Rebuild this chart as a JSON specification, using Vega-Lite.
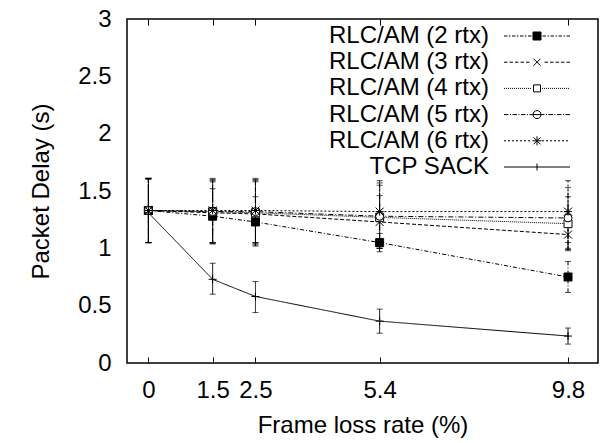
{
  "$schema": "https://vega.github.io/schema/vega-lite/v6.json",
  "width": 471,
  "height": 344,
  "autosize": {"type": "none"},
  "padding": {"left": 127, "top": 19, "right": 4, "bottom": 80},
  "config": {
    "font": "Liberation Sans",
    "view": {"stroke": "black", "strokeWidth": 1.5},
    "axis": {"grid": false, "labelColor": "black", "titleColor": "black", "labelFont": "Liberation Sans", "titleFont": "Liberation Sans", "labelFontSize": 24, "titleFontSize": 24, "titleFontWeight": "normal", "domain": false}
  },
  "data": {"values": [
    {"series": "RLC/AM (2 rtx)", "x": 0, "y": 1.33, "lo": 1.05, "hi": 1.61},
    {"series": "RLC/AM (2 rtx)", "x": 1.5, "y": 1.28, "lo": 1.04, "hi": 1.52},
    {"series": "RLC/AM (2 rtx)", "x": 2.5, "y": 1.23, "lo": 1.02, "hi": 1.45},
    {"series": "RLC/AM (2 rtx)", "x": 5.4, "y": 1.05, "lo": 0.97, "hi": 1.13},
    {"series": "RLC/AM (2 rtx)", "x": 9.8, "y": 0.75, "lo": 0.615, "hi": 0.885},
    {"series": "RLC/AM (3 rtx)", "x": 0, "y": 1.33, "lo": 1.05, "hi": 1.61},
    {"series": "RLC/AM (3 rtx)", "x": 1.5, "y": 1.31, "lo": 1.04, "hi": 1.58},
    {"series": "RLC/AM (3 rtx)", "x": 2.5, "y": 1.30, "lo": 1.03, "hi": 1.58},
    {"series": "RLC/AM (3 rtx)", "x": 5.4, "y": 1.23, "lo": 1.0, "hi": 1.46},
    {"series": "RLC/AM (3 rtx)", "x": 9.8, "y": 1.12, "lo": 0.98, "hi": 1.26},
    {"series": "RLC/AM (4 rtx)", "x": 0, "y": 1.33, "lo": 1.05, "hi": 1.61},
    {"series": "RLC/AM (4 rtx)", "x": 1.5, "y": 1.32, "lo": 1.05, "hi": 1.59},
    {"series": "RLC/AM (4 rtx)", "x": 2.5, "y": 1.31, "lo": 1.04, "hi": 1.59},
    {"series": "RLC/AM (4 rtx)", "x": 5.4, "y": 1.27, "lo": 1.0, "hi": 1.55},
    {"series": "RLC/AM (4 rtx)", "x": 9.8, "y": 1.215, "lo": 0.99, "hi": 1.45},
    {"series": "RLC/AM (5 rtx)", "x": 0, "y": 1.33, "lo": 1.05, "hi": 1.61},
    {"series": "RLC/AM (5 rtx)", "x": 1.5, "y": 1.32, "lo": 1.05, "hi": 1.6},
    {"series": "RLC/AM (5 rtx)", "x": 2.5, "y": 1.32, "lo": 1.05, "hi": 1.6},
    {"series": "RLC/AM (5 rtx)", "x": 5.4, "y": 1.28, "lo": 1.0, "hi": 1.57},
    {"series": "RLC/AM (5 rtx)", "x": 9.8, "y": 1.265, "lo": 1.0, "hi": 1.53},
    {"series": "RLC/AM (6 rtx)", "x": 0, "y": 1.33, "lo": 1.05, "hi": 1.61},
    {"series": "RLC/AM (6 rtx)", "x": 1.5, "y": 1.33, "lo": 1.05, "hi": 1.61},
    {"series": "RLC/AM (6 rtx)", "x": 2.5, "y": 1.33, "lo": 1.05, "hi": 1.61},
    {"series": "RLC/AM (6 rtx)", "x": 5.4, "y": 1.32, "lo": 1.05, "hi": 1.59},
    {"series": "RLC/AM (6 rtx)", "x": 9.8, "y": 1.32, "lo": 1.05, "hi": 1.59},
    {"series": "TCP SACK", "x": 0, "y": 1.31, "lo": 1.05, "hi": 1.6},
    {"series": "TCP SACK", "x": 1.5, "y": 0.73, "lo": 0.6, "hi": 0.87},
    {"series": "TCP SACK", "x": 2.5, "y": 0.58, "lo": 0.44, "hi": 0.71},
    {"series": "TCP SACK", "x": 5.4, "y": 0.365, "lo": 0.26, "hi": 0.47},
    {"series": "TCP SACK", "x": 9.8, "y": 0.235, "lo": 0.165, "hi": 0.305}
  ]},
  "resolve": {"scale": {"shape": "independent"}, "axis": {"x": "independent", "y": "independent"}},
  "layer": [
    {
      "mark": {"type": "rule", "color": "black", "strokeWidth": 1},
      "encoding": {
        "x": {"field": "x", "type": "quantitative", "scale": {"domain": [-0.5, 10.5], "nice": false, "zero": false},
          "axis": {"values": [0, 1.5, 2.5, 5.4, 9.8], "format": ".1~f", "title": "Frame loss rate (%)", "tickSize": -6, "tickColor": "black", "labelPadding": 21, "titlePadding": 11, "labelFlush": false, "labelOverlap": false}},
        "y": {"field": "lo", "type": "quantitative", "scale": {"domain": [0, 3], "nice": false},
          "axis": {"values": [0, 0.5, 1, 1.5, 2, 2.5, 3], "format": "~g", "title": "Packet Delay (s)", "ticks": false, "labelPadding": 16, "titlePadding": 24, "labelFlush": false, "labelOverlap": false}},
        "y2": {"field": "hi"},
        "strokeDash": {"field": "series", "type": "nominal", "legend": null,
          "scale": {"domain": ["RLC/AM (2 rtx)", "RLC/AM (3 rtx)", "RLC/AM (4 rtx)", "RLC/AM (5 rtx)", "RLC/AM (6 rtx)", "TCP SACK"],
            "range": [[4, 2, 1, 2], [4, 2], [1, 1], [5, 2, 1, 2], [2, 2], [1, 0]]}}
      }
    },
    {
      "mark": {"type": "tick", "orient": "horizontal", "color": "black", "size": 6, "thickness": 1},
      "encoding": {
        "x": {"field": "x", "type": "quantitative", "axis": null},
        "y": {"field": "lo", "type": "quantitative", "axis": null}
      }
    },
    {
      "mark": {"type": "tick", "orient": "horizontal", "color": "black", "size": 6, "thickness": 1},
      "encoding": {
        "x": {"field": "x", "type": "quantitative", "axis": null},
        "y": {"field": "hi", "type": "quantitative", "axis": null}
      }
    },
    {
      "mark": {"type": "line", "color": "black", "strokeWidth": 1},
      "encoding": {
        "x": {"field": "x", "type": "quantitative",
          "axis": {"orient": "top", "values": [0, 1.5, 2.5, 5.4, 9.8], "labels": false, "title": null, "tickSize": -6, "tickColor": "black"}},
        "y": {"field": "y", "type": "quantitative", "axis": null},
        "strokeDash": {"field": "series", "type": "nominal", "legend": null},
        "order": {"field": "x", "type": "quantitative"}
      }
    },
    {
      "mark": {"type": "point", "stroke": "black", "strokeWidth": 1, "opacity": 1, "size": 64},
      "encoding": {
        "x": {"field": "x", "type": "quantitative", "axis": null},
        "y": {"field": "y", "type": "quantitative", "axis": null},
        "shape": {"field": "series", "type": "nominal", "legend": null,
          "scale": {"domain": ["RLC/AM (2 rtx)", "RLC/AM (3 rtx)", "RLC/AM (4 rtx)", "RLC/AM (5 rtx)", "RLC/AM (6 rtx)", "TCP SACK"],
            "range": ["M-1,-1h2v2h-2z", "M-1,-1L1,1M1,-1L-1,1", "M-1,-1h2v2h-2z", "circle", "M-1,-1L1,1M1,-1L-1,1M-1,0H1M0,-1V1", "M-1,0H1M0,-1V1"]}},
        "fill": {"field": "series", "type": "nominal", "legend": null,
          "scale": {"domain": ["RLC/AM (2 rtx)", "RLC/AM (3 rtx)", "RLC/AM (4 rtx)", "RLC/AM (5 rtx)", "RLC/AM (6 rtx)", "TCP SACK"],
            "range": ["black", "transparent", "white", "white", "transparent", "transparent"]}}
      }
    },
    {
      "transform": [{"filter": "false"}],
      "mark": {"type": "point", "stroke": "black", "strokeWidth": 1, "opacity": 1},
      "encoding": {
        "x": {"field": "x", "type": "quantitative", "axis": null},
        "y": {"field": "y", "type": "quantitative", "axis": null},
        "shape": {"field": "series", "type": "nominal",
          "scale": {"domain": ["RLC/AM (2 rtx)", "RLC/AM (3 rtx)", "RLC/AM (4 rtx)", "RLC/AM (5 rtx)", "RLC/AM (6 rtx)", "TCP SACK"],
            "range": [
              "M-3.3,0h0.35m0.15,0h0.15m0.15,0h0.35m0.15,0h0.15m0.15,0h0.35m0.15,0h0.15m0.15,0h0.35M0.55,0h0.35m0.15,0h0.15m0.15,0h0.35m0.15,0h0.15m0.15,0h0.35m0.15,0h0.15m0.15,0h0.35M-0.4,-0.4h0.8M-0.4,-0.35h0.8M-0.4,-0.3h0.8M-0.4,-0.25h0.8M-0.4,-0.2h0.8M-0.4,-0.15h0.8M-0.4,-0.1h0.8M-0.4,-0.05h0.8M-0.4,0h0.8M-0.4,0.05h0.8M-0.4,0.1h0.8M-0.4,0.15h0.8M-0.4,0.2h0.8M-0.4,0.25h0.8M-0.4,0.3h0.8M-0.4,0.35h0.8M-0.4,0.4h0.8M-0.4,-0.4v0.8M0.4,-0.4v0.8M-0.3,-0.4v0.8M-0.2,-0.4v0.8M-0.1,-0.4v0.8M0,-0.4v0.8M0.1,-0.4v0.8M0.2,-0.4v0.8M0.3,-0.4v0.8",
              "M-3.3,0h0.35m0.2,0h0.35m0.2,0h0.35m0.2,0h0.35m0.2,0h0.35M0.75,0h0.35m0.2,0h0.35m0.2,0h0.35m0.2,0h0.35m0.2,0h0.35M-0.35,-0.35L0.35,0.35M0.35,-0.35L-0.35,0.35",
              "M-3.3,0h0.1m0.1,0h0.1m0.1,0h0.1m0.1,0h0.1m0.1,0h0.1m0.1,0h0.1m0.1,0h0.1m0.1,0h0.1m0.1,0h0.1m0.1,0h0.1m0.1,0h0.1m0.1,0h0.1m0.1,0h0.1m0.1,0h0.1M0.5,0h0.1m0.1,0h0.1m0.1,0h0.1m0.1,0h0.1m0.1,0h0.1m0.1,0h0.1m0.1,0h0.1m0.1,0h0.1m0.1,0h0.1m0.1,0h0.1m0.1,0h0.1m0.1,0h0.1m0.1,0h0.1m0.1,0h0.1M-0.35,-0.35h0.7v0.7h-0.7z",
              "M-3.3,0h0.45m0.15,0h0.1m0.15,0h0.45m0.15,0h0.1m0.15,0h0.45m0.15,0h0.1m0.15,0h0.3M0.45,0h0.3m0.15,0h0.1m0.15,0h0.45m0.15,0h0.1m0.15,0h0.45m0.15,0h0.1m0.15,0h0.45M0.4,0A0.4,0.4,0,1,1,-0.4,0A0.4,0.4,0,1,1,0.4,0ZM-0.45,0H0.45",
              "M-3.3,0h0.2m0.2,0h0.2m0.2,0h0.2m0.2,0h0.2m0.2,0h0.2m0.2,0h0.2m0.2,0h0.2M0.5,0h0.2m0.2,0h0.2m0.2,0h0.2m0.2,0h0.2m0.2,0h0.2m0.2,0h0.2m0.2,0h0.2M-0.35,-0.35L0.35,0.35M0.35,-0.35L-0.35,0.35M-0.45,0H0.45M0,-0.45V0.45",
              "M-3.3,0H3.3M0,-0.35V0.35"
            ]},
          "legend": {
            "title": null, "orient": "none", "legendX": 398, "legendY": 5, "padding": 0,
            "symbolSize": 400, "symbolStrokeWidth": 1, "symbolStrokeColor": "black", "symbolOpacity": 1,
            "labelFont": "Liberation Sans", "labelFontSize": 24, "labelColor": "black", "labelAlign": "right", "labelOffset": -60, "labelLimit": 400,
            "rowPadding": 2.2
          }}
      }
    }
  ]
}
